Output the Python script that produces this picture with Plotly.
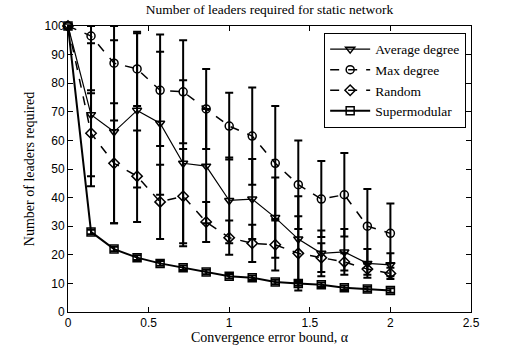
import plotly.graph_objects as go

# alpha values (15 points, step 1/7)
alpha = [i / 7 for i in range(15)]

avg_degree = [100, 69, 63, 70.5, 66, 52, 51, 39, 39.5, 33, 25.5, 20.5, 21, 17, 16.5]
avg_err = [0, 25, 32, 27, 25, 29, 20, 15, 14, 14, 15, 8, 8, 5, 4]

max_degree = [100, 96.5, 87, 85, 77.5, 77, 71, 65, 61.5, 52, 44.5, 39.5, 41, 30, 27.5]
max_err = [0, 20, 20, 13, 19.5, 18, 14, 11.7, 17, 20, 15.5, 13.3, 14.6, 13, 10.4]

random_sel = [100, 62.5, 52, 47.5, 38.5, 40.5, 31.5, 26, 24, 23.5, 20.5, 19, 17.5, 15, 13.5]
random_err = [0, 15, 21, 16, 13, 16.5, 7, 6, 6.5, 9, 13, 5, 3, 2, 2]

supermodular = [100, 28, 22, 19, 17, 15.5, 14, 12.5, 12, 10.5, 10, 9.5, 8.5, 8, 7.5]
super_err = [0, 0.8, 0.8, 0.8, 0.8, 0.8, 0.8, 0.8, 0.8, 0.8, 0.8, 0.8, 0.8, 0.8, 0.8]

series = [
    ("Average degree", avg_degree, avg_err, "solid", "triangle-down-open", 1.2),
    ("Max degree", max_degree, max_err, "dash", "circle-open", 1.5),
    ("Random", random_sel, random_err, "dash", "diamond-open", 1.5),
    ("Supermodular", supermodular, super_err, "solid", "square-open", 2),
]

fig = go.Figure()
for name, y, err, dash, symbol, lw in series:
    # keep bars inside the axes box like the original
    up = [min(e, 100 - v) for v, e in zip(y, err)]
    fig.add_trace(go.Scatter(
        x=alpha, y=y, name=name, mode="lines+markers",
        line=dict(color="black", width=lw, dash=dash),
        marker=dict(symbol=symbol, size=8, color="black",
                    line=dict(color="black", width=1.5)),
        error_y=dict(type="data", array=up, arrayminus=err, symmetric=False,
                     color="black", thickness=2, width=4),
        cliponaxis=False,
    ))

axis_common = dict(
    showline=True, linecolor="black", linewidth=1, mirror="ticks",
    ticks="inside", ticklen=5, tickcolor="black", showgrid=False, zeroline=False,
    automargin=False,
    tickfont=dict(family="Liberation Sans", size=12, color="black"),
)

serif = dict(family="Liberation Serif", size=14, color="black")

fig.update_layout(
    width=520, height=351,
    margin=dict(l=68, r=49, t=26, b=39),
    paper_bgcolor="white", plot_bgcolor="white",
    title=dict(text="Number of leaders required for static network",
               x=0.5, xanchor="center", xref="paper", y=0.988, yanchor="top",
               font=dict(family="Liberation Serif", size=13.5, color="black")),
    xaxis=dict(range=[0, 2.5], dtick=0.5,
               title=dict(text="Convergence error bound, α", standoff=2, font=serif),
               **axis_common),
    yaxis=dict(range=[0, 100], dtick=10,
               title=dict(text="Number of leaders required", standoff=6, font=serif),
               **axis_common),
    legend=dict(x=0.988, y=0.976, xanchor="right", yanchor="top",
                bgcolor="white", bordercolor="black", borderwidth=1,
                font=dict(family="Liberation Serif", size=13.5, color="black"),
                tracegroupgap=0, itemwidth=40),
    showlegend=True,
)

# drop the browser's default 8px page margin so the figure sits at (0, 0)
fig.write_html("out.html", config={"displayModeBar": False},
               post_script="document.body.style.margin='0';")
